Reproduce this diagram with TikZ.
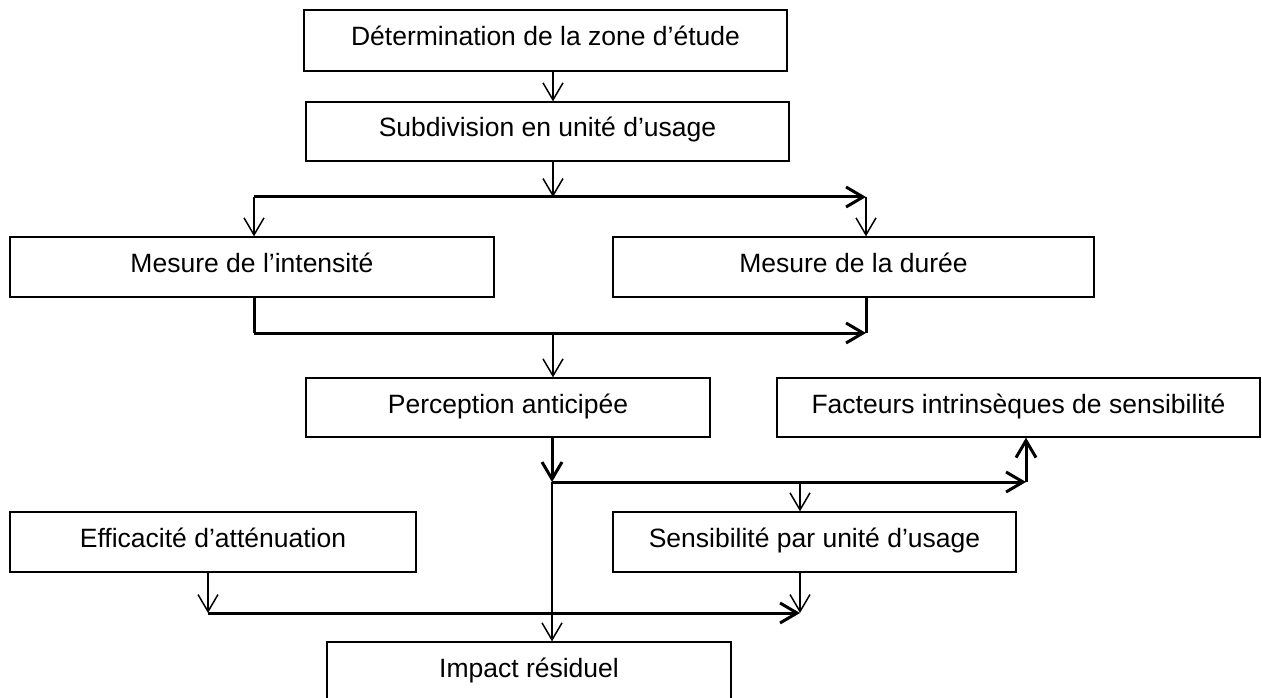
\documentclass[tikz,border=0pt]{standalone}
\usepackage{fontspec}
\setmainfont{Liberation Sans}
\usetikzlibrary{positioning, arrows.meta}
\tikzstyle{block} = [draw, rectangle, line width=1.3pt, inner sep=0pt,
    minimum height=60pt, minimum width=483pt,
    text height=16pt, text depth=5pt,
    font=\fontsize{26.5}{31}\selectfont]
\tikzstyle{conn} = [line width=1.5pt]
\tikzstyle{thickconn} = [line width=3pt]

\begin{document}
\begin{tikzpicture}[x=1pt, y=-1pt,
        >={Straight Barb[length=17pt, width=20pt]}]

        \clip (0,0) rectangle (1262,698);

        \node[
            block,
            minimum height=61pt
        ](det) at (545.5,40.5){Détermination de la zone d’étude};

        \node[
            block,
            minimum height=59pt
        ](sub) at (547.5,131.5){Subdivision en unité d’usage};

        \node[
            block,
            minimum width=484pt
        ](inten) at (252,267){Mesure de l’intensité};

        \node[
            block,
            minimum width=481pt,
            right of=inten,
            node distance=601.5pt
        ](duree){Mesure de la durée};

        \node[
            block,
            minimum width=404pt,
            minimum height=59pt
        ](perc) at (508,407.5){Perception anticipée};

        \node[
            block,
            minimum height=59pt,
            right of=perc,
            node distance=510.5pt
        ](fact){Facteurs intrinsèques de sensibilité};

        \node[
            block,
            minimum width=406pt
        ](eff) at (213,542){Efficacité d’atténuation};

        \node[
            block,
            minimum width=403pt,
            right of=eff,
            node distance=601.5pt
        ](sens){Sensibilité par unité d’usage};

        \node[
            block,
            minimum width=404pt
        ](impact) at (529,672){Impact résiduel};

        % branch and join points
        \coordinate (fork1) at (553,197);
        \coordinate (fork1l) at (254,197);
        \coordinate (fork1r) at (866,197);
        \coordinate (join1l) at (254,333);
        \coordinate (join1m) at (553,333);
        \coordinate (join1r) at (866,333);
        \coordinate (fork2) at (552,482);
        \coordinate (fork2m) at (800,482);
        \coordinate (fork2r) at (1026,482);
        \coordinate (join2l) at (208,613);
        \coordinate (join2r) at (800,613);

        \draw[conn,->] (det.south -| fork1) -- (sub.north -| fork1);
        \draw[conn,->] (sub.south -| fork1) -- (fork1);
        \draw[thickconn,->] (fork1l) -- (fork1r);
        \draw[conn,->] (fork1l) -- (inten.north -| fork1l);
        \draw[conn,->] (fork1r) -- (duree.north -| fork1r);

        \draw[thickconn] (inten.south -| join1l) -- (join1l);
        \draw[thickconn,->] (join1l) -- (join1r);
        \draw[thickconn] (duree.south -| join1r) -- (join1r);
        \draw[conn,->] (join1m) -- (perc.north -| join1m);

        \draw[thickconn,->] (perc.south -| fork2) -- (fork2);
        \draw[conn,->] (fork2) -- (impact.north -| fork2);
        \draw[thickconn,->] (fork2) -- (fork2r);
        \draw[thickconn,->] (fork2r) -- (fact.south -| fork2r);
        \draw[conn,->] (fork2m) -- (sens.north -| fork2m);

        \draw[conn,->] (eff.south -| join2l) -- (join2l);
        \draw[thickconn,->] (join2l) -- (join2r);
        \draw[conn,->] (sens.south -| join2r) -- (join2r);
    \end{tikzpicture}
\end{document}
